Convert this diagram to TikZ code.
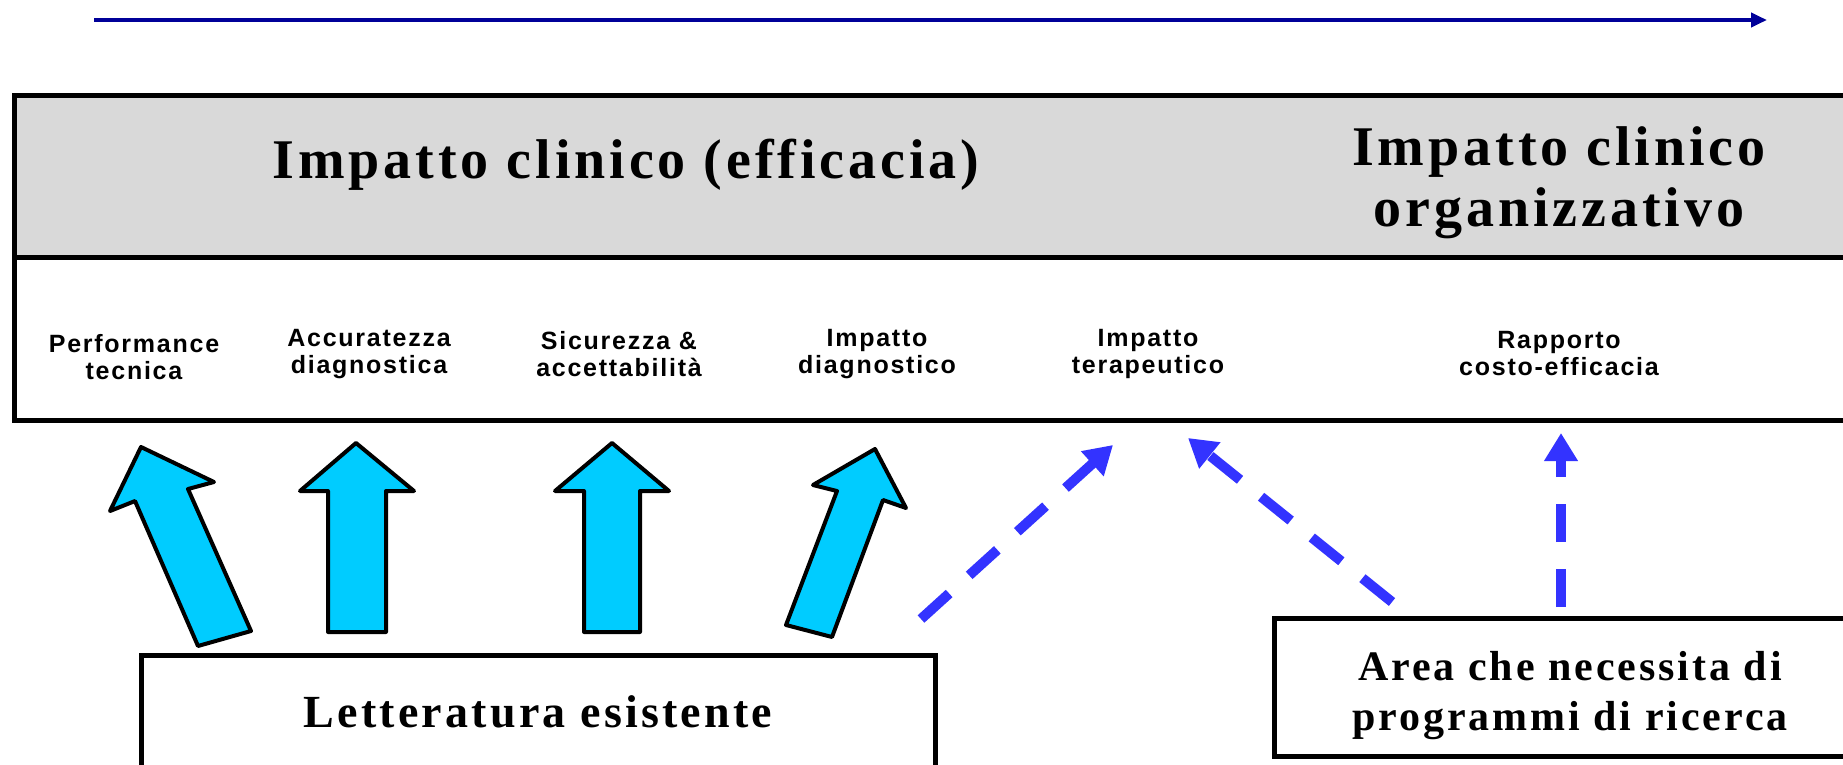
\documentclass[tikz,border=0pt]{standalone}
\usepackage{fontspec}
\setmainfont{Liberation Serif}
\newfontfamily\labelfont[LetterSpace=7]{Liberation Sans}
\newfontfamily\headfont[LetterSpace=7]{Liberation Serif}
\usetikzlibrary{arrows.meta}
\definecolor{bandgray}{RGB}{217,217,217}
\definecolor{arrowcyan}{RGB}{0,204,255}
\definecolor{dashblue}{RGB}{51,51,255}
\definecolor{topblue}{RGB}{0,0,153}
\tikzset{
  bigbox/.style={draw=black, line width=5pt},
  blockarrow/.style={draw=black, fill=arrowcyan, line width=4pt, line join=round},
  smalllabel/.style={align=center, inner sep=0pt, font=\labelfont\bfseries\fontsize{25}{27}\selectfont},
  headtext/.style={align=center, inner sep=0pt, font=\headfont\bfseries\fontsize{56}{61}\selectfont},
  textbox/.style={draw=black, line width=5pt, align=center, inner sep=0pt},
  dashlink/.style={draw=dashblue, line width=10pt, dash pattern=on 38pt off 27pt, -{Triangle[length=28pt,width=32pt]}},
  topline/.style={draw=topblue, line width=4.5pt, -{Triangle[length=16pt,width=14pt]}}
}

\begin{document}
\begin{tikzpicture}[x=1pt, y=-1pt]
\useasboundingbox (0,0) rectangle (1843,765);
% top arrow
\coordinate (tl) at (94,20);
\coordinate (tr) at (1767,20);
\draw[topline] (tl) -- (tr);
% big box
\fill[bandgray] (14,96) rectangle (1860,257);
\draw[bigbox] (14,96) rectangle (1860,420);
\draw[bigbox] (14,257) -- (1860,257);
\node[headtext] (clinico) at (626,165) {Impatto clinico (efficacia)};
\node[headtext] (organiz) at (1559,183) {Impatto clinico\\organizzativo};
% labels
\node[smalllabel] (perf) at (134,357) {Performance\\tecnica};
\node[smalllabel] (accur) at (369,354) {Accuratezza\\diagnostica};
\node[smalllabel] (sicur) at (619,354) {Sicurezza \&\\accettabilità};
\node[smalllabel] (impdiag) at (877,354) {Impatto\\diagnostico};
\node[smalllabel] (impter) at (1148,354) {Impatto\\terapeutico};
\node[smalllabel] (rapp) at (1559,354) {Rapporto\\costo-efficacia};
% block arrows
\draw[blockarrow] (141,447) -- (214,482) -- (188,489) -- (251,631) -- (198,646) -- (135,501) -- (110,511) -- cycle;
\draw[blockarrow] (356,443) -- (414,491) -- (386,491) -- (386,632) -- (328,632) -- (328,491) -- (300,491) -- cycle;
\draw[blockarrow] (612,443) -- (669,491) -- (640,491) -- (640,632) -- (584,632) -- (584,491) -- (555,491) -- cycle;
\draw[blockarrow] (875,449) -- (906,508) -- (883,500) -- (832,637) -- (786,625) -- (837,491) -- (813,485) -- cycle;
% bottom boxes
\node[textbox, minimum width=794, minimum height=114, font=\headfont\bfseries\fontsize{46}{50}\selectfont] (lett) at (538,712) {Letteratura esistente};
\node[textbox, minimum width=592, minimum height=138] (area) at (1570,687) {};
\node[align=center, inner sep=0pt, font=\headfont\bfseries\fontsize{42}{50}\selectfont] (areatext) at (1570,696) {Area che necessita di\\programmi di ricerca};
% dashed arrows
\coordinate (d1s) at (921,619);
\coordinate (d1e) at (1113,445);
\coordinate (d2s) at (1392,602);
\coordinate (d2e) at (1188,438);
\coordinate (d3s) at (1561,607);
\coordinate (d3e) at (1561,433);
\draw[dashlink] (d1s) -- (d1e);
\draw[dashlink] (d2s) -- (d2e);
\draw[dashlink] (d3s) -- (d3e);
\end{tikzpicture}
\end{document}
